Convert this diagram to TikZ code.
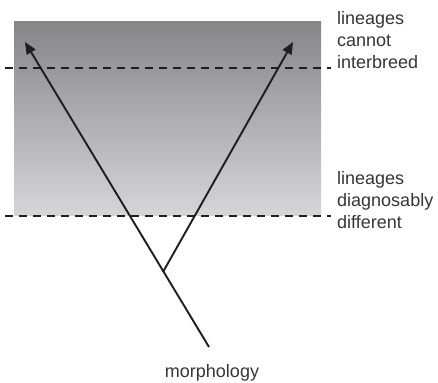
\documentclass[tikz,border=0pt]{standalone}
\usepackage{fontspec}
\setmainfont{Liberation Sans}
\usetikzlibrary{arrows.meta}
\definecolor{shadetop}{RGB}{134,134,137}
\definecolor{shadebot}{RGB}{214,214,216}
\definecolor{ink}{RGB}{30,30,30}
\tikzset{
  branch/.style={draw=ink, line width=1.9pt},
  tipped/.style={branch, -{Triangle[length=12pt,width=10pt]}},
  level/.style={draw=ink, line width=1.5pt, dash pattern=on 8pt off 6pt},
  lbl/.style={font=\fontsize{18}{22}\selectfont, text=ink!90, align=left, inner sep=0pt},
}
\begin{document}
\begin{tikzpicture}[x=1pt,y=1pt]
\useasboundingbox (0,0) rectangle (438,382);
\shade[top color=shadetop, bottom color=shadebot] (14,166) rectangle (321,360);
\coordinate (root) at (209,35);
\coordinate (fork) at (163,110);
\coordinate (lefttip) at (25,340);
\coordinate (righttip) at (293,340);
\coordinate (d1a) at (5,314);
\coordinate (d1b) at (331,314);
\coordinate (d2a) at (5,166);
\coordinate (d2b) at (331,166);
\draw[level] (d1a) -- (d1b);
\draw[level] (d2a) -- (d2b);
\draw[tipped] (root) -- (lefttip);
\draw[tipped] (fork) -- (righttip);
\node[lbl, anchor=north west] (interbreed) at (337,371) {lineages\\cannot\\interbreed};
\node[lbl, anchor=north west] (diagnos) at (337,211) {lineages\\diagnosably\\different};
\node[lbl, anchor=base] (morph) at (212,5) {morphology};
\end{tikzpicture}
\end{document}
